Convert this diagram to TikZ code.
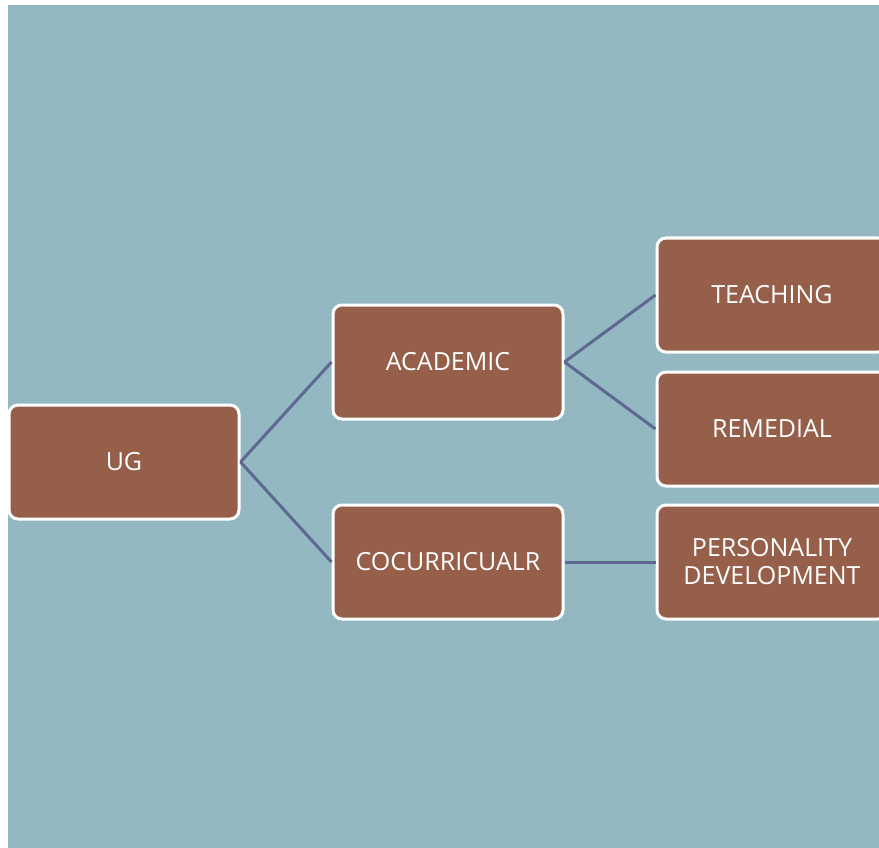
\documentclass[tikz,border=0pt]{standalone}
\usepackage{fontspec}
\setmainfont{Open Sans}
\definecolor{bgc}{HTML}{93B8C1}
\definecolor{boxc}{HTML}{955F4A}
\definecolor{linec}{HTML}{5E6890}
\begin{document}
\begin{tikzpicture}[x=1pt,y=-1pt,
  box/.style={draw=white, line width=3pt, fill=boxc, rounded corners=9pt,
    minimum width=230pt, minimum height=114pt, text=white, font=\fontsize{25}{28}\selectfont,
    align=center, inner sep=0pt, text width=226pt},
  conn/.style={draw=linec, line width=3pt}]
\useasboundingbox (0,0) rectangle (879,848);
\clip (0,0) rectangle (879,848);
\fill[white] (0,0) rectangle (879,848);
\fill[bgc] (8,5) rectangle (879,848);
\node[box] (ug) at (124,462) {UG};
\node[box] (acad) at (448,362) {ACADEMIC};
\node[box] (cocu) at (448,562) {COCURRICUALR};
\node[box] (teach) at (772,295) {TEACHING};
\node[box] (rem) at (772,429) {REMEDIAL};
\node[box] (pers) at (772,562) {PERSONALITY\\DEVELOPMENT};
\draw[conn] (ug.east) -- (acad.west);
\draw[conn] (ug.east) -- (cocu.west);
\draw[conn] (acad.east) -- (teach.west);
\draw[conn] (acad.east) -- (rem.west);
\draw[conn] (cocu.east) -- (pers.west);
\end{tikzpicture}
\end{document}
